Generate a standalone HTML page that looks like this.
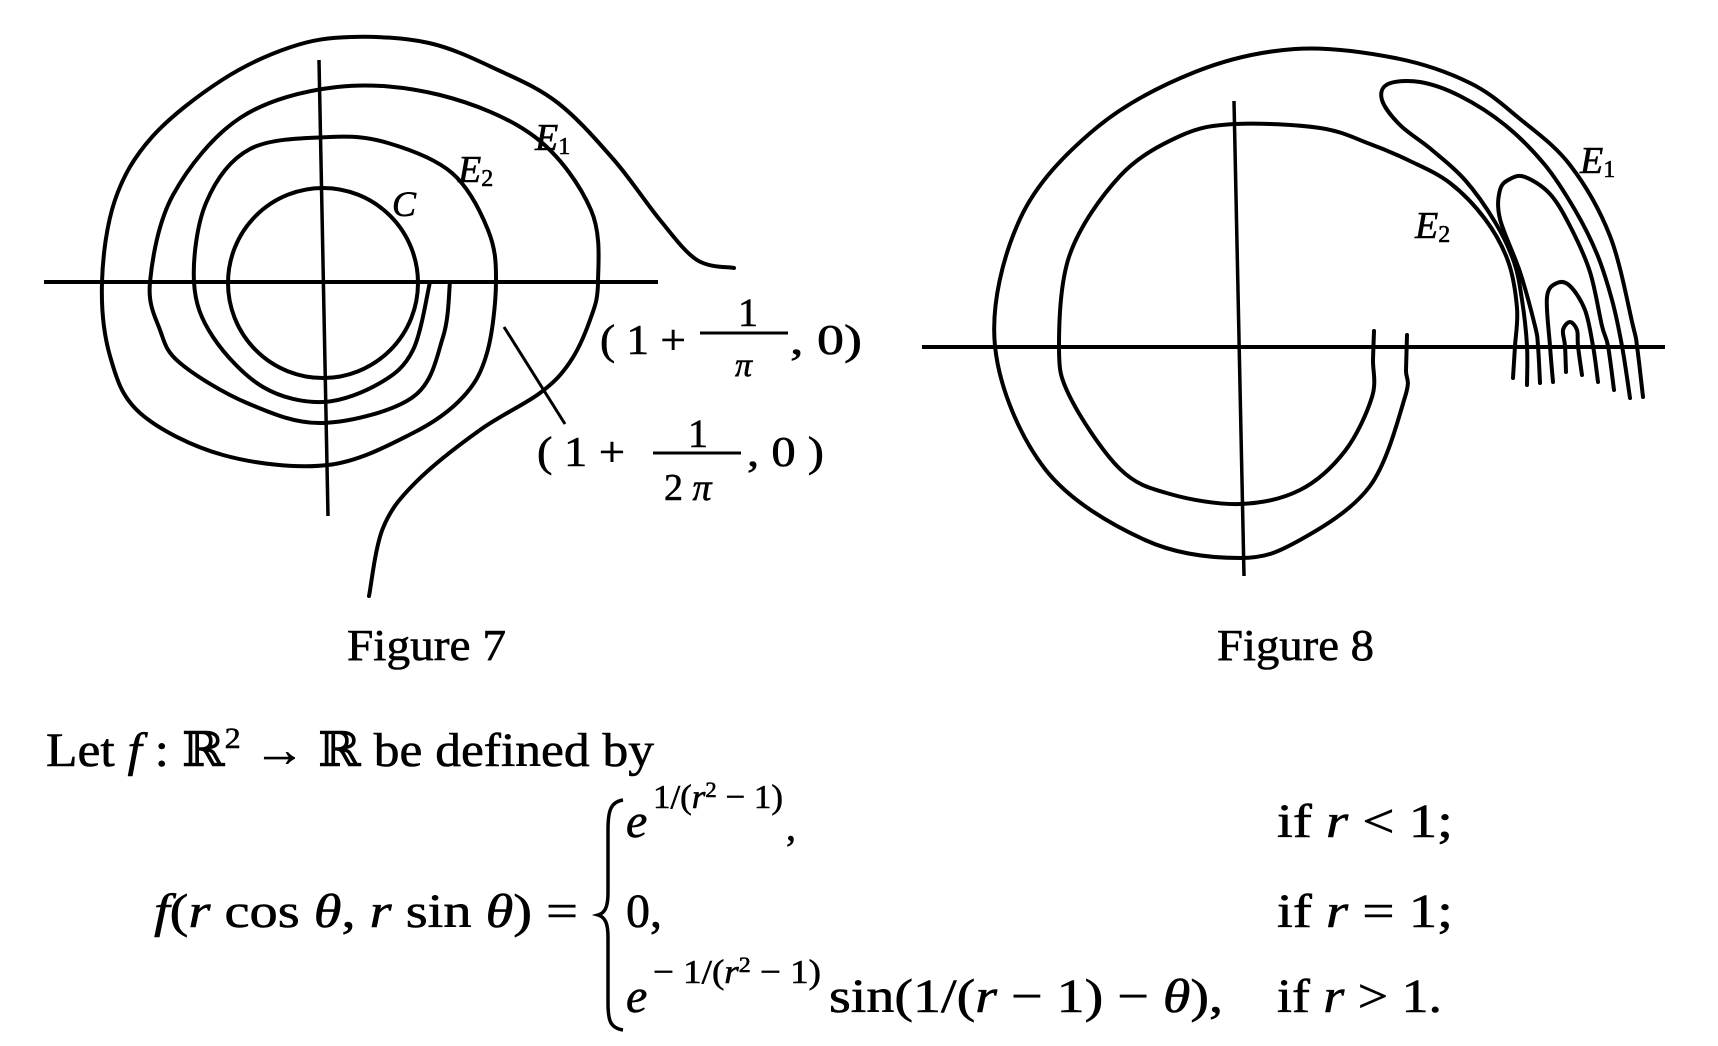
<!DOCTYPE html>
<html><head><meta charset="utf-8">
<style>
html,body{margin:0;padding:0;background:#fff;}
svg{display:block;}
text{font-family:"Liberation Serif","DejaVu Serif",serif;fill:#000;stroke:#000;stroke-width:0.6;}
.it{font-style:italic;}
</style></head>
<body>
<svg id="fig" width="1718" height="1046" viewBox="0 0 1718 1046" xmlns="http://www.w3.org/2000/svg">
<rect width="1718" height="1046" fill="#fff"/>
<g id="curves" fill="none" stroke="#000" stroke-width="4" stroke-linecap="round" stroke-linejoin="round"></g>

<line x1="44" y1="282" x2="658" y2="282" stroke="#000" stroke-width="4"/>
<line x1="319" y1="60" x2="328" y2="516" stroke="#000" stroke-width="3.5"/>
<ellipse cx="323" cy="283" rx="95" ry="95" fill="none" stroke="#000" stroke-width="4"/>
<line x1="504" y1="327" x2="565" y2="424" stroke="#000" stroke-width="3"/>

<line x1="922" y1="347" x2="1665" y2="347" stroke="#000" stroke-width="4"/>
<line x1="1234" y1="101" x2="1244" y2="576" stroke="#000" stroke-width="3.5"/>

<text class="it" x="392" y="216" font-size="36">C</text>
<text class="it" x="535" y="150" font-size="38">E<tspan font-size="24" font-style="normal" dy="4">1</tspan></text>
<text class="it" x="458" y="182" font-size="38">E<tspan font-size="24" font-style="normal" dy="4">2</tspan></text>

<g>
<text x="600" y="354" font-size="42" textLength="86" lengthAdjust="spacingAndGlyphs">( 1 +</text>
<text x="738" y="326" font-size="40">1</text>
<line x1="700" y1="333" x2="788" y2="333" stroke="#000" stroke-width="3"/>
<text class="it" x="735" y="376" font-size="34">π</text>
<text x="790" y="354" font-size="42" textLength="72" lengthAdjust="spacingAndGlyphs">, 0)</text>
</g>
<g>
<text x="537" y="466" font-size="42" textLength="88" lengthAdjust="spacingAndGlyphs">( 1 +</text>
<text x="688" y="447" font-size="40">1</text>
<line x1="653" y1="453" x2="741" y2="453" stroke="#000" stroke-width="3"/>
<text x="664" y="500" font-size="38">2 <tspan class="it">π</tspan></text>
<text x="747" y="466" font-size="42" textLength="77" lengthAdjust="spacingAndGlyphs">, 0 )</text>
</g>

<text class="it" x="1580" y="173" font-size="38">E<tspan font-size="24" font-style="normal" dy="4">1</tspan></text>
<text class="it" x="1415" y="238" font-size="38">E<tspan font-size="24" font-style="normal" dy="4">2</tspan></text>

<text x="347" y="660" font-size="44" textLength="159" lengthAdjust="spacingAndGlyphs">Figure 7</text>
<text x="1217" y="660" font-size="44" textLength="157" lengthAdjust="spacingAndGlyphs">Figure 8</text>

<text x="46" y="766" font-size="48" textLength="608" lengthAdjust="spacingAndGlyphs">Let <tspan class="it">f</tspan> : ℝ<tspan font-size="30" dy="-18">2</tspan><tspan dy="18"> → ℝ be defined by</tspan></text>

<text x="154" y="927" font-size="48" textLength="424" lengthAdjust="spacingAndGlyphs"><tspan class="it">f</tspan>(<tspan class="it">r</tspan> cos <tspan class="it">θ</tspan>, <tspan class="it">r</tspan> sin <tspan class="it">θ</tspan>) =</text>

<path d="M623,800 C610,802 608,812 608,830 L608,893 C608,907 605,913 598,915 C605,917 608,923 608,937 L608,1003 C608,1020 610,1028 623,1030" fill="none" stroke="#000" stroke-width="3.5"/>

<g>
<text class="it" x="626" y="837" font-size="48">e</text>
<text x="653" y="808" font-size="34" textLength="130" lengthAdjust="spacingAndGlyphs">1/(<tspan class="it">r</tspan><tspan font-size="22" dy="-11">2</tspan><tspan dy="11"> − 1)</tspan></text>
<text x="786" y="840" font-size="40">,</text>
</g>
<text x="626" y="927" font-size="48">0,</text>
<g>
<text class="it" x="626" y="1012" font-size="48">e</text>
<text x="653" y="983" font-size="34" textLength="168" lengthAdjust="spacingAndGlyphs">− 1/(<tspan class="it">r</tspan><tspan font-size="22" dy="-11">2</tspan><tspan dy="11"> − 1)</tspan></text>
<text x="829" y="1012" font-size="48" textLength="394" lengthAdjust="spacingAndGlyphs">sin(1/(<tspan class="it">r</tspan> − 1) − <tspan class="it">θ</tspan>),</text>
</g>

<text x="1277" y="837" font-size="48" textLength="176" lengthAdjust="spacingAndGlyphs">if <tspan class="it">r</tspan> &lt; 1;</text>
<text x="1277" y="927" font-size="48" textLength="176" lengthAdjust="spacingAndGlyphs">if <tspan class="it">r</tspan> = 1;</text>
<text x="1277" y="1012" font-size="48" textLength="165" lengthAdjust="spacingAndGlyphs">if <tspan class="it">r</tspan> &gt; 1.</text>
</svg>

<script>
var fig7OuterX = [734,697,660,614,558,498,429,351,291,222,152,115,102,110,140,223,328,413,463,487,496,488,452,388,330,250,206,194,213,263,323,380,413,430];
var fig7OuterY = [268,260,220,160,103,70,43,37,47,80,137,200,282,356,413,455,465,433,397,353,282,230,173,143,137,149,203,282,337,387,402,383,350,282];
var fig7SecondX = [369,383,416,480,540,570,590,598,591,535,440,337,240,173,150,160,180,247,323,413,443,450];
var fig7SecondY = [596,528,482,430,393,362,320,282,210,137,95,87,118,195,282,330,363,403,423,397,337,282];
var fig8E2X = [1374,1373,1372,1345,1300,1240,1170,1120,1070,1059,1070,1120,1180,1235,1320,1370,1410,1450,1485,1508,1517,1515,1513];
var fig8E2Y = [331,360,397,451,490,504,494,469,397,346,254,176,136,124,128,144,161,183,219,261,308,346,378];
var fig8OuterX = [1407,1406,1405,1370,1300,1240,1145,1045,995,1020,1095,1195,1295,1395,1470,1520,1570,1610,1633,1637,1643];
var fig8OuterY = [335,370,397,486,540,558,540,469,346,219,129,72,49,58,83,119,165,236,326,346,397];
var fig8Loop1X = [1527,1527,1522,1514,1495,1465,1432,1400,1382,1388,1420,1460,1505,1545,1575,1597,1612,1622,1630];
var fig8Loop1Y = [385,346,300,262,222,180,150,125,100,84,82,96,125,165,210,254,300,346,398];
var fig8Loop2X = [1540,1538,1535,1520,1500,1500,1510,1525,1550,1570,1590,1602,1608,1614];
var fig8Loop2Y = [383,346,326,272,219,190,179,177,194,226,272,326,346,390];
var fig8Loop3X = [1553,1550,1547,1557,1570,1585,1593,1598];
var fig8Loop3Y = [382,346,297,283,286,310,346,382];
var fig8Loop4X = [1566,1565,1563,1570,1577,1578,1582];
var fig8Loop4Y = [372,346,330,322,330,346,375];

function smoothPath(xs, ys) {
  var d = 'M' + xs[0] + ',' + ys[0];
  for (var i = 0; i < xs.length - 1; i++) {
    var x0 = xs[Math.max(i - 1, 0)], y0 = ys[Math.max(i - 1, 0)];
    var x1 = xs[i], y1 = ys[i], x2 = xs[i + 1], y2 = ys[i + 1];
    var x3 = xs[Math.min(i + 2, xs.length - 1)], y3 = ys[Math.min(i + 2, xs.length - 1)];
    var c1x = x1 + (x2 - x0) / 6, c1y = y1 + (y2 - y0) / 6;
    var c2x = x2 - (x3 - x1) / 6, c2y = y2 - (y3 - y1) / 6;
    d += ' C' + c1x.toFixed(1) + ',' + c1y.toFixed(1) + ' ' + c2x.toFixed(1) + ',' + c2y.toFixed(1) + ' ' + x2 + ',' + y2;
  }
  return d;
}
var g = document.getElementById('curves');
function addCurve(xs, ys, name) {
  var p = document.createElementNS('http://www.w3.org/2000/svg', 'path');
  p.setAttribute('d', smoothPath(xs, ys));
  
  
  g.appendChild(p);
}
addCurve(fig7OuterX, fig7OuterY, 'fig7-outer-level-curve');
addCurve(fig7SecondX, fig7SecondY, 'fig7-second-level-curve');
addCurve(fig8E2X, fig8E2Y, 'fig8-e2-curve');
addCurve(fig8OuterX, fig8OuterY, 'fig8-e1-outer-curve');
addCurve(fig8Loop1X, fig8Loop1Y, 'fig8-loop-1');
addCurve(fig8Loop2X, fig8Loop2Y, 'fig8-loop-2');
addCurve(fig8Loop3X, fig8Loop3Y, 'fig8-loop-3');
addCurve(fig8Loop4X, fig8Loop4Y, 'fig8-loop-4');
</script>
</body></html>
